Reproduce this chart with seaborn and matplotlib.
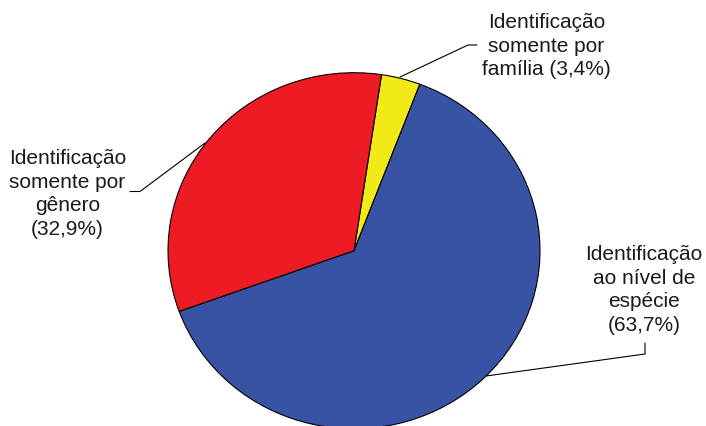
import matplotlib
matplotlib.use("Agg")
import matplotlib.pyplot as plt
import seaborn as sns

# Identification level of the specimens (percent of total)
categories = [
    "Identificação\nsomente por\nfamília",
    "Identificação\nao nível de\nespécie",
    "Identificação\nsomente por\ngênero",
]
values = [3.4, 63.7, 32.9]
colors = ["#F2EA16", "#3953A4", "#ED1C24"]

sns.set_theme(style="white")
plt.rcParams["font.family"] = ["Liberation Sans", "DejaVu Sans"]

W, H = 706, 426
fig = plt.figure(figsize=(W / 100, H / 100), dpi=100)
ax = fig.add_axes([0, 0, 1, 1])

# pie centre and radii in pixels (slightly flattened vertically)
cx, cy, rx, ry = 354, 250.7, 186, 178


def px(x, y):
    """Pixel position (origin top-left) -> data coordinates."""
    return (x - cx) / rx, (cy - y) / ry


def pct(v):
    return f"({v:.1f}%)".replace(".", ",")


ax.pie(values, colors=colors, startangle=81.5, counterclock=False,
       radius=1, center=(0, 0), frame=True,
       wedgeprops=dict(edgecolor="black", linewidth=0.8))
ax.set_aspect("auto")
ax.set_xlim(-cx / rx, (W - cx) / rx)
ax.set_ylim(-(H - cy) / ry, cy / ry)
ax.axis("off")

text_kw = dict(ha="center", va="center", multialignment="center",
               fontsize=15, color="#1a1a1a", linespacing=1.32)
line_kw = dict(color="black", lw=0.8)

# family
ax.text(*px(546.5, 46), categories[0] + " " + pct(values[0]), **text_kw)
xs, ys = zip(px(400, 77), px(468, 45), px(477, 45))
ax.plot(xs, ys, **line_kw)

# genus
ax.text(*px(67.5, 194), categories[2] + "\n" + pct(values[2]), **text_kw)
xs, ys = zip(px(130, 191.5), px(140, 191.5), px(205, 143))
ax.plot(xs, ys, **line_kw)

# species
ax.text(*px(644, 290), categories[1] + "\n" + pct(values[1]), **text_kw)
xs, ys = zip(px(645, 343), px(645, 354), px(486, 376))
ax.plot(xs, ys, **line_kw)

fig.savefig("out.png", dpi=100, facecolor="white")
